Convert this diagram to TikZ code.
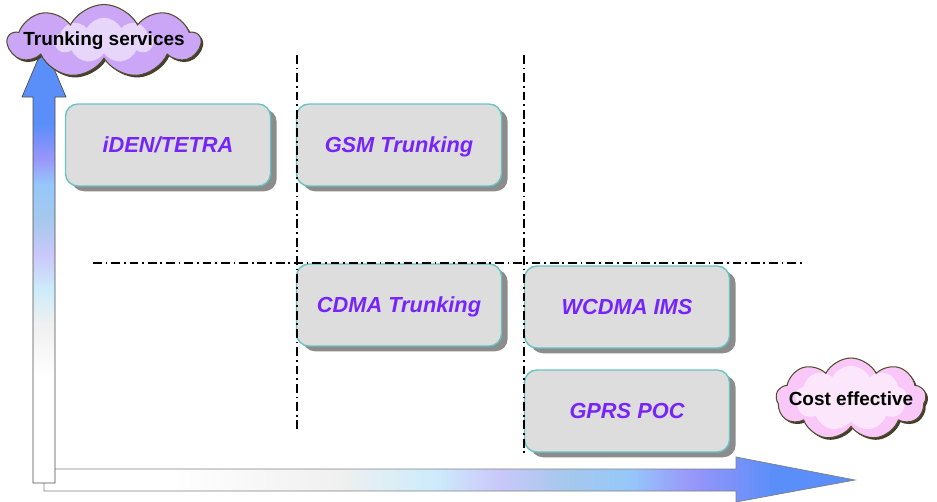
\documentclass[tikz,border=0pt]{standalone}
\usepackage{fontspec}
\setmainfont{Liberation Sans}
\usetikzlibrary{shapes.symbols, shadows}
\definecolor{boxedge}{RGB}{104,196,196}
\definecolor{boxfill}{RGB}{221,221,221}
\definecolor{boxtext}{RGB}{118,36,250}
\definecolor{axisblue}{RGB}{90,142,248}
\definecolor{axisviolet}{RGB}{152,150,250}
\definecolor{axissky}{RGB}{150,200,250}
\definecolor{axissteel}{RGB}{166,200,236}
\definecolor{axislav}{RGB}{202,200,250}
\definecolor{axiscyan}{RGB}{205,236,250}
\definecolor{axisgray}{RGB}{240,240,240}
\definecolor{lilac}{RGB}{204,166,246}
\definecolor{rose}{RGB}{250,200,248}

% banded fades for the two axes (box mapped on 25bp..75bp)
\pgfdeclarehorizontalshading{xfade}{100bp}{color(0bp)=(white); color(33bp)=(white);
  color(43bp)=(axisgray); color(49bp)=(axiscyan); color(53bp)=(axislav);
  color(57bp)=(axissteel); color(61bp)=(axissky); color(65bp)=(axisviolet);
  color(70bp)=(axisblue); color(100bp)=(axisblue)}
\pgfdeclareverticalshading{yfade}{100bp}{color(0bp)=(white); color(37bp)=(white);
  color(43bp)=(axisgray); color(47bp)=(axiscyan); color(51bp)=(axislav);
  color(55bp)=(axissteel); color(59bp)=(axissky); color(62bp)=(axisviolet);
  color(66bp)=(axisblue); color(100bp)=(axisblue)}

\begin{document}
\begin{tikzpicture}[% styles used in image code
   x = 0.02cm, y = -0.02cm,
box/.style = {draw=boxedge, thick, fill=boxfill, rounded corners=7pt,
              minimum width=4.1cm, minimum height=1.64cm, text depth=0pt,
              font=\fontsize{12.4}{14}\selectfont\bfseries\itshape, text=boxtext,
              drop shadow={shadow xshift=3.5pt, shadow yshift=-3pt,
                           fill=gray!90, opacity=1}},
bubble/.style args = {#1/#2/#3}{cloud, cloud puffs=9, cloud puff arc=125,
              cloud ignores aspect, inner sep=0pt,
              draw=black!55!olive, semithick, fill=#1,
              minimum width=#2, minimum height=#3,
              drop shadow={shadow xshift=1.2pt, shadow yshift=-1.2pt,
                           fill=black!70!olive, opacity=1}},
glow/.style 2 args = {path picture={\node[fill=white, opacity=0.55,
              minimum width=#1, minimum height=#2, inner sep=0pt]
              at (path picture bounding box.center) {};}},
tag/.style = {font=\fontsize{10.8}{12}\selectfont\bfseries, text=black},
divider/.style = {line width=1pt, dash pattern=on 5pt off 2.2pt on 1pt off 2.2pt}
                    ]
    \useasboundingbox (0,0) rectangle (937,501);

	% axes
	\shade[draw=gray, shading=xfade]
	    (44,469) -- (736,469) -- (736,457) -- (855,480) -- (736,502)
	    -- (736,491) -- (44,491) -- cycle;
	\shade[draw=gray!60!black, shading=yfade]
	    (33,483) -- (33,97) -- (22,97) -- (44,45) -- (66,97) -- (55,97)
	    -- (55,483) -- cycle;

	% axis names
	\node (trunk) [bubble=lilac/3.84cm/1.46cm, glow={2cm}{0.9cm},
	               label={[tag]center:Trunking services}] at (104,41) {};
	\node (cost)  [bubble=rose/3cm/1.64cm, glow={2.24cm}{1.3cm},
	               label={[tag]center:Cost effective}] at (851,399) {};

	% systems
	\node (iden)  [box] at (168,145) {iDEN/TETRA};
	\node (gsm)   [box] at (399,145) {GSM Trunking};
	\node (cdma)  [box] at (399,305) {CDMA Trunking};
	\node (wcdma) [box] at (627,307) {WCDMA IMS};
	\node (gprs)  [box] at (627,411) {GPRS POC};

	% quadrant borders
	\coordinate (v1) at (297,55);
	\coordinate (v2) at (524,55);
	\coordinate (h1) at (93,263);
	\draw[divider] (v1) -- ++ (0,375);
	\draw[divider] (v2) -- ++ (0,400);
	\draw[divider] (h1) -- ++ (712,0);
\end{tikzpicture}
\end{document}
